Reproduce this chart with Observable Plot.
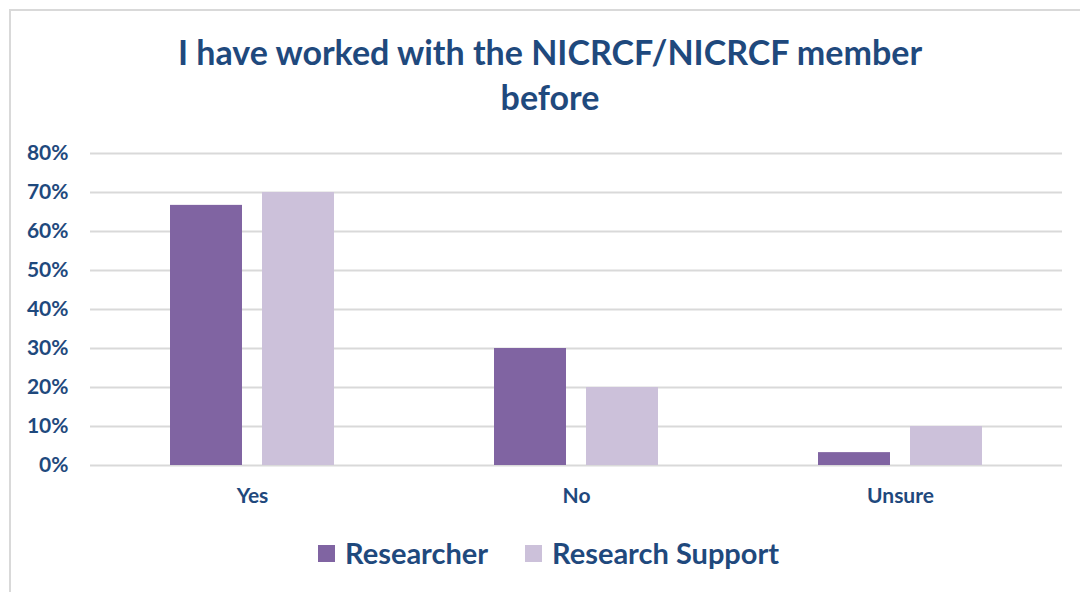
<!DOCTYPE html>
<html>
<head>
<meta charset="utf-8">
<script src="https://cdn.jsdelivr.net/npm/d3@7"></script>
<script src="https://cdn.jsdelivr.net/npm/@observablehq/plot@0.6"></script>
<style>
  html, body { margin: 0; padding: 0; background: #fff; }
  body { width: 1080px; height: 592px; overflow: hidden; position: relative; font-family: Lato, "Open Sans", sans-serif; }
  #frame { position: absolute; left: 9px; top: 9px; width: 1200px; height: 700px; border: 2px solid #d9d9d9; box-sizing: border-box; }
  #title { position: absolute; left: 0; width: 1100px; top: 29px; text-align: center; color: #1F497D; font-weight: bold; font-size: 34px; line-height: 45px; }
  #chart { position: absolute; left: 0; top: 130px; }
  #legend { position: absolute; left: 0; top: 0; width: 1080px; height: 592px; color: #1F497D; font-weight: bold; font-size: 29px; }
  .sw { position: absolute; width: 17px; height: 17px; top: 545px; }
  .lt { position: absolute; top: 535px; line-height: 36px; white-space: nowrap; }
</style>
</head>
<body>
<div id="frame"></div>
<div id="title">I have worked with the NICRCF/NICRCF member<br>before</div>
<div id="chart"></div>
<div id="legend"></div>
<script>
const categories = ["Yes", "No", "Unsure"];
const seriesNames = ["Researcher", "Research Support"];
const researcher = [0.667, 0.30, 0.033];
const researchSupport = [0.70, 0.20, 0.10];
const yTicks = [0, 0.1, 0.2, 0.3, 0.4, 0.5, 0.6, 0.7, 0.8];
const colors = ["#8064A2", "#CCC1DA"];

const rows = [];
categories.forEach((c, i) => {
  rows.push({category: c, series: seriesNames[0], value: researcher[i]});
  rows.push({category: c, series: seriesNames[1], value: researchSupport[i]});
});

const plot = Plot.plot({
  width: 1080,
  height: 395,
  marginLeft: 90,
  marginRight: 18,
  marginTop: 23,
  marginBottom: 60,
  style: {fontFamily: "Lato, 'Open Sans', sans-serif", background: "transparent"},
  x: {domain: categories, padding: 0, label: null},
  y: {domain: [0, 0.8], label: null},
  color: {domain: seriesNames, range: colors},
  marks: [
    Plot.gridY(yTicks, {stroke: "#d9d9d9", strokeOpacity: 1, strokeWidth: 2}),
    Plot.barY(rows.filter(d => d.series === seriesNames[0]), {x: "category", y: "value", fill: "series", insetLeft: 80, insetRight: 172}),
    Plot.barY(rows.filter(d => d.series === seriesNames[1]), {x: "category", y: "value", fill: "series", insetLeft: 172, insetRight: 80}),
    Plot.axisY(yTicks, {tickSize: 0, tickPadding: 22, tickFormat: d3.format(".0%"), fill: "#1F497D", fontSize: 21, fontWeight: "bold", label: null}),
    Plot.axisX({tickSize: 0, tickPadding: 23, fill: "#1F497D", fontSize: 21, fontWeight: "bold", label: null})
  ]
});
document.getElementById("chart").appendChild(plot);

const legend = document.getElementById("legend");
const swX = [318, 525];
const txtX = [345, 552];
seriesNames.forEach((s, i) => {
  const sw = document.createElement("div");
  sw.className = "sw";
  sw.style.left = swX[i] + "px";
  sw.style.background = colors[i];
  legend.appendChild(sw);
  const t = document.createElement("div");
  t.className = "lt";
  t.style.left = txtX[i] + "px";
  t.textContent = s;
  legend.appendChild(t);
});
</script>
</body>
</html>
